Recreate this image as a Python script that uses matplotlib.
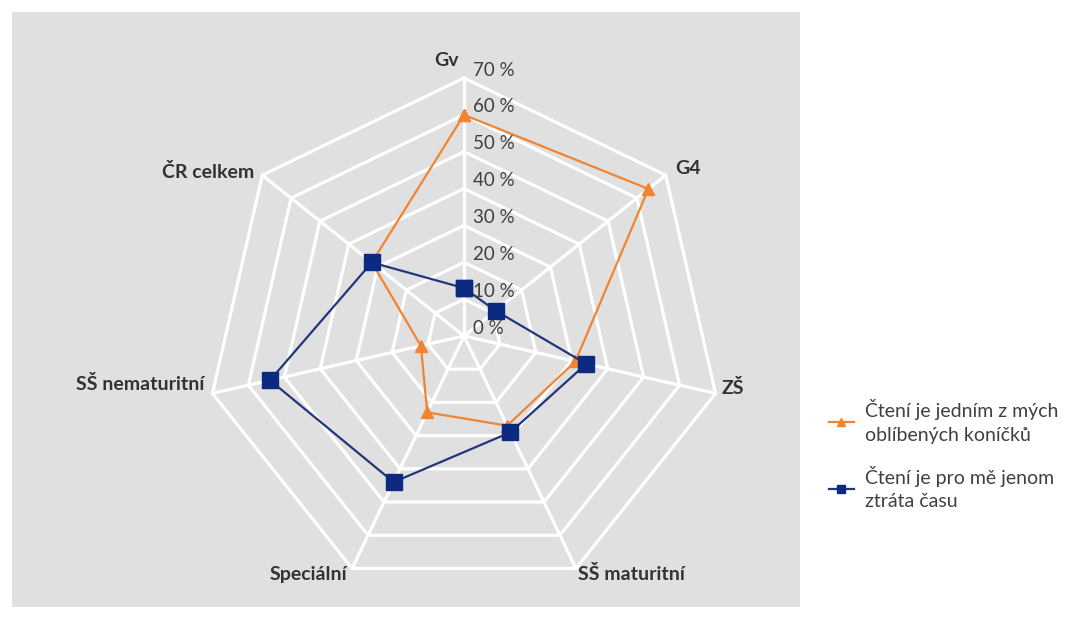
import numpy as np
import matplotlib
matplotlib.use("Agg")
import matplotlib.pyplot as plt
from matplotlib.patches import Rectangle

plt.rcParams['font.family'] = ['Lato', 'DejaVu Sans']

categories = ["Gv", "G4", "ZŠ", "SŠ maturitní", "Speciální", "SŠ nematuritní", "ČR celkem"]
hobby = [60, 64, 31, 27, 23, 12, 32]        # Čtení je jedním z mých oblíbených koníčků
waste = [13, 11, 34, 29, 44, 54, 32]        # Čtení je pro mě jenom ztráta času
ticks = [0, 10, 20, 30, 40, 50, 60, 70]
tick_labels = [f"{t} %" for t in ticks]
series_names = ["Čtení je jedním z mých\noblíbených koníčků",
                "Čtení je pro mě jenom\nztráta času"]

W, H = 1077, 617
fig = plt.figure(figsize=(W / 100, H / 100), dpi=100)
fig.patch.set_facecolor("white")
fig.patches.append(Rectangle((12 / W, 10 / H), 788 / W, 595 / H,
                             transform=fig.transFigure, facecolor="#e0e0e1",
                             edgecolor="none", zorder=-10))

cx, cy, R = 464, 336, 258
ax = fig.add_axes([(cx - R) / W, (H - cy - R) / H, 2 * R / W, 2 * R / H], projection="polar")
ax.set_theta_offset(np.pi / 2)
ax.set_theta_direction(-1)
ax.set_facecolor("none")
ax.patch.set_alpha(0)
ax.grid(False)
ax.spines["polar"].set_visible(False)
ax.set_xticks([])
ax.set_yticks([])
ax.set_ylim(0, 70)

n = len(categories)
theta = np.arange(n) * 2 * np.pi / n
theta_c = np.append(theta, theta[0])

# heptagon grid
for t in ticks[1:]:
    ax.plot(theta_c, [t] * (n + 1), color="white", lw=2.3, zorder=1, clip_on=False)
for th in theta:
    ax.plot([th, th], [0, ticks[-1]], color="white", lw=2.3, zorder=1, clip_on=False)

def closed(v):
    return list(v) + [v[0]]

ax.plot(theta_c, closed(hobby), color="#EF8532", lw=1.6, marker="^", markersize=8,
        label=series_names[0], zorder=3, clip_on=False)
ax.plot(theta_c, closed(waste), color="#22367A", lw=1.6, marker="s", markersize=11,
        markerfacecolor="#0B2A80", markeredgecolor="#0B2A80",
        label=series_names[1], zorder=4, clip_on=False)

# radial tick labels
for t, lab in zip(ticks, tick_labels):
    ax.annotate(lab, xy=(0, t), xytext=(9, 8), textcoords="offset pixels",
                ha="left", va="center", fontsize=13.5, color="#404040", zorder=5,
                annotation_clip=False)

# category labels
offsets = [(-17, 18, "center"), (22, 7, "center"), (17, 5, "center"),
           (2, -6, "left"), (-5, -6, "right"), (-8, 9, "right"), (-8, 3, "right")]
for th, cat, (dx, dy, ha) in zip(theta, categories, offsets):
    ax.annotate(cat, xy=(th, ticks[-1]), xytext=(dx, dy), textcoords="offset pixels",
                ha=ha, va="center", fontsize=14, fontweight="bold", color="#333333",
                annotation_clip=False)

handles, labels = ax.get_legend_handles_labels()
leg = fig.legend(handles, labels, loc="upper left",
                 bbox_to_anchor=(811 / W, (H - 382) / H), frameon=False,
                 fontsize=14, handlelength=1.3, handletextpad=0.6,
                 labelspacing=1.15, labelcolor="#404040")
for h in leg.legend_handles:
    h.set_markersize(6)
for txt in leg.get_texts():
    txt.set_linespacing(1.45)

fig.savefig("out.png", dpi=100)
